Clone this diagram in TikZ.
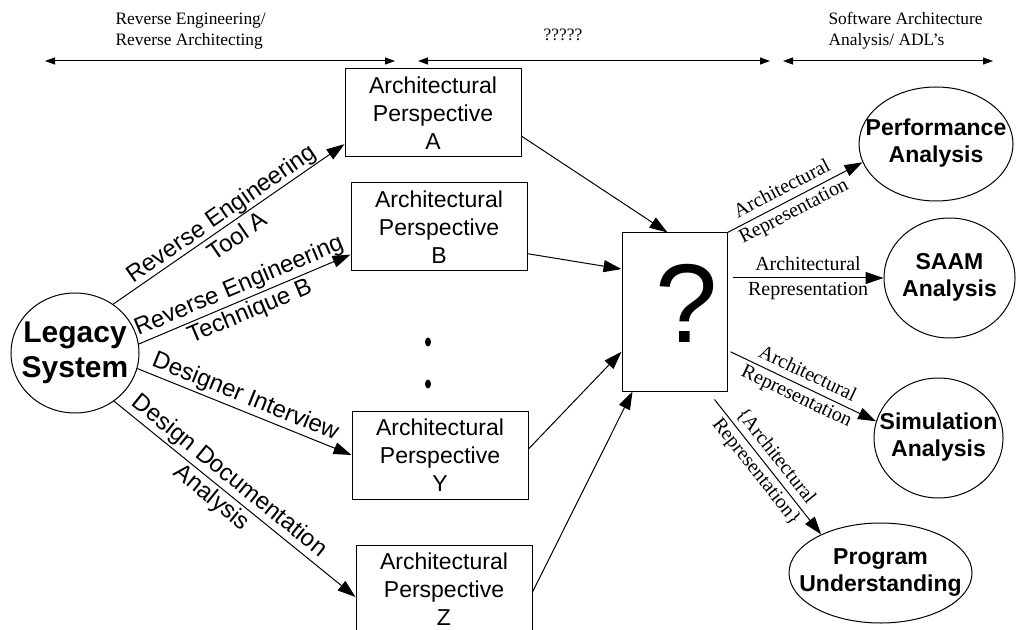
\documentclass[tikz,border=0pt]{standalone}
\usepackage{fontspec}
\setmainfont{Liberation Serif}
\setsansfont{Liberation Sans}
\usetikzlibrary{arrows.meta,calc,shapes.geometric}
\newcommand{\ovaltext}[1]{\makebox[0pt]{\begin{tabular}{@{}c@{}}#1\end{tabular}}}

\begin{document}
\begin{tikzpicture}[x=0.5pt,y=-0.5pt,line width=0.5pt,
  persp/.style={draw,minimum width=88pt,minimum height=44pt,inner sep=0pt,align=center,font=\sffamily\fontsize{11.5}{14}\selectfont},
  tool/.style={draw,ellipse,inner sep=0pt,font=\sffamily\bfseries\fontsize{11.5}{13.5}\selectfont},
  flow/.style={-{Triangle[length=9pt,width=6pt]}},
  span/.style={{Triangle[length=5pt,width=3.5pt]}-{Triangle[length=5pt,width=3.5pt]}},
  how/.style={sloped,align=center,inner sep=1pt,font=\sffamily\fontsize{12}{14}\selectfont},
  rep/.style={sloped,align=center,inner sep=1pt,font=\fontsize{10}{12.5}\selectfont},
  head/.style={align=left,inner sep=0pt,font=\fontsize{8.7}{10.5}\selectfont},
  dot/.style={fill,ellipse,inner sep=0pt,minimum width=3pt,minimum height=4.5pt}]
  \useasboundingbox (0,0) rectangle (1016,630);

  \node[head,anchor=north west] (re) at (115,12) {Reverse Engineering/\\Reverse Architecting};
  \node[head] (mid) at (563,35) {?????};
  \node[head,anchor=north west] (sa) at (828,12) {Software Architecture\\Analysis/ ADL's};
  \foreach \n/\a/\b in {re/45/395,mid/418/770,sa/783/993}{
    \coordinate (\n-l) at (\a,61);
    \coordinate (\n-r) at (\b,61);
    \draw[span] (\n-l) -- (\n-r);
  }

  \node[tool,minimum width=64pt,minimum height=60pt,font=\sffamily\bfseries\fontsize{15}{17.5}\selectfont] (legacy) at (75,353) {\ovaltext{Legacy\\System}};
  \node[persp] (pa) at (433,113) {Architectural\\Perspective\\A};
  \node[persp] (pb) at (439,227) {Architectural\\Perspective\\B};
  \node[persp] (py) at (440,455) {Architectural\\Perspective\\Y};
  \node[persp] (pz) at (444,589) {Architectural\\Perspective\\Z};
  \node[dot] (d1) at (428,342) {};
  \node[dot] (d2) at (428,384) {};
  \node[draw,minimum width=52.5pt,minimum height=79pt,inner sep=0pt,font=\sffamily\fontsize{56}{56}\selectfont] (q) at (674.5,312) {\hspace*{12pt}\raisebox{9pt}{?}};
  \node[tool,minimum width=77pt,minimum height=57pt] (perf) at (936,144) {\ovaltext{Performance\\Analysis}};
  \node[tool,minimum width=65.5pt,minimum height=60pt] (saam) at (949.5,278) {\ovaltext{SAAM\\Analysis}};
  \node[tool,minimum width=64.5pt,minimum height=60pt] (sim) at (938.5,438) {\ovaltext{Simulation\\Analysis}};
  \node[tool,minimum width=91.5pt,minimum height=50pt] (prog) at (880.5,573) {\ovaltext{Program\\Understanding}};

  \draw[flow] (legacy.52) -- node[how,pos=0.5] (ta) {Reverse Engineering\\Tool A} ($(pa.south west)!0.15!(pa.north west)$);
  \draw[flow] (legacy.8) -- node[how,pos=0.5] (tb) {Reverse Engineering\\Technique B} ($(pb.south west)!0.19!(pb.north west)$);
  \draw[flow] (legacy.-14) -- node[how,above,pos=0.48] (ty) {Designer Interview} (py.west);
  \draw[flow] (legacy.-51) -- node[how,pos=0.44] (tz) {Design Documentation\\Analysis} ($(pz.west)+(0,8)$);

  \draw[flow] ($(pa.south east)!0.24!(pa.north east)$) -- ($(q.north)+(-7,0)$);
  \draw[flow] ($(pb.south east)!0.2!(pb.north east)$) -- ($(q.south west)!0.77!(q.north west)$);
  \draw[flow] ($(py.east)+(0,-6)$) -- ($(q.south west)!0.25!(q.north west)$);
  \draw[flow] ($(pz.east)+(0,3)$) -- ($(q.south west)+(11,0)$);

  \draw[flow] (q.north east) -- node[rep,pos=0.45] (r1) {Architectural\\Representation} (perf.194);
  \draw[flow] ($(q.east |- saam.west)+(5,0)$) -- node[rep] (r2) {Architectural\\Representation} (saam.west);
  \draw[flow] ($(q.south east)!0.25!(q.north east)+(3,0)$) -- node[rep,pos=0.49] (r3) {Architectural\\Representation} (sim.165);
  \draw[flow] ($(q.south east)+(-13,8)$) -- node[rep,pos=0.48] (r4) {\{Architectural\\Representation\}} (prog.147);
\end{tikzpicture}
\end{document}
